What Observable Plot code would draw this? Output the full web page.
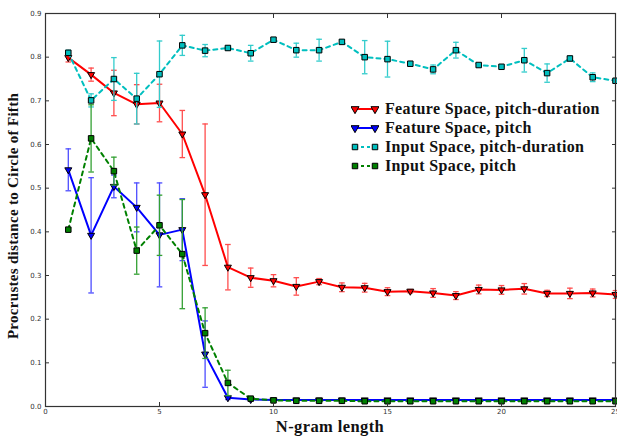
<!DOCTYPE html>
<html><head><meta charset="utf-8">
<script src="https://cdn.jsdelivr.net/npm/d3@7"></script>
<script src="https://cdn.jsdelivr.net/npm/@observablehq/plot@0.6"></script>
<style>
html,body{margin:0;padding:0;background:#fff;overflow:hidden;}
#wrap{position:relative;width:617px;height:437px;overflow:hidden;}
#wrap svg{overflow:hidden;display:block}
.lab{position:absolute;font-family:"Liberation Serif",serif;font-weight:bold;color:#111;white-space:nowrap;}
.ylab{left:-187px;top:206px;width:400px;text-align:center;font-size:15px;line-height:20px;transform:rotate(-90deg);letter-spacing:0.3px;}
.xlab{left:130px;top:417px;width:400px;text-align:center;font-size:16.5px;letter-spacing:0.4px;}
.leg{position:absolute;left:351px;display:flex;align-items:center;height:18px;font-family:"Liberation Serif",serif;font-weight:bold;font-size:16px;color:#111;white-space:nowrap;letter-spacing:0.35px;}
.leg svg{margin-right:6px;}
</style></head><body><div id="wrap"></div>
<script>
const nGram = [1,2,3,4,5,6,7,8,9,10,11,12,13,14,15,16,17,18,19,20,21,22,23,24,25];
const xTicks = [0,5,10,15,20,25];
const yTicks = [0,0.1,0.2,0.3,0.4,0.5,0.6,0.7,0.8,0.9];
const seriesNames = ["Feature Space, pitch-duration","Feature Space, pitch","Input Space, pitch-duration","Input Space, pitch"];

const featPD    = [0.799,0.760,0.718,0.692,0.695,0.624,0.485,0.319,0.295,0.288,0.275,0.286,0.273,0.272,0.263,0.264,0.260,0.254,0.268,0.267,0.2695,0.259,0.259,0.260,0.2565];
const featPDerr = [0.010,0.015,0.052,0.045,0.043,0.054,0.162,0.052,0.022,0.014,0.020,0.007,0.010,0.010,0.009,0.004,0.010,0.009,0.010,0.010,0.012,0.007,0.012,0.009,0.009];

const featP    = [0.542,0.392,0.504,0.456,0.393,0.405,0.120,0.020,0.016,0.015,0.015,0.015,0.015,0.015,0.015,0.015,0.015,0.015,0.015,0.015,0.015,0.015,0.015,0.015,0.015];
const featPerr = [0.048,0.132,0.026,0.056,0.119,0.071,0.076,0.004,0.003,0.002,0.002,0.002,0.002,0.002,0.002,0.002,0.002,0.002,0.002,0.002,0.002,0.002,0.002,0.002,0.002];

const inPD    = [0.810,0.701,0.750,0.705,0.761,0.827,0.815,0.821,0.809,0.840,0.816,0.816,0.835,0.800,0.7955,0.785,0.772,0.816,0.782,0.778,0.793,0.7635,0.797,0.754,0.746];
const inPDerr = [0.006,0.015,0.049,0.058,0.076,0.023,0.014,0.005,0.018,0.004,0.016,0.025,0.005,0.038,0.041,0.004,0.010,0.018,0.002,0.002,0.027,0.021,0.005,0.010,0.003];

const inP    = [0.405,0.614,0.539,0.357,0.415,0.349,0.168,0.054,0.018,0.014,0.013,0.013,0.013,0.012,0.012,0.012,0.012,0.012,0.012,0.012,0.012,0.012,0.012,0.012,0.012];
const inPerr = [0.003,0.077,0.032,0.054,0.069,0.125,0.058,0.029,0.003,0.002,0.002,0.002,0.002,0.002,0.002,0.002,0.002,0.002,0.002,0.002,0.002,0.002,0.002,0.002,0.002];

const styles = [
  {color:"#ff0000", err:"#ff4d4d", dash:null, symbol:"triangle", rotate:180, r:2.6},
  {color:"#0000ff", err:"#4d4dff", dash:null, symbol:"triangle", rotate:180, r:2.6},
  {color:"#00bfbf", err:"#33cccc", dash:"4,4", symbol:"square", rotate:0, r:3.1},
  {color:"#008000", err:"#33a033", dash:"4,4", symbol:"square", rotate:0, r:3.1}
];
const values = [featPD, featP, inPD, inP];
const errs = [featPDerr, featPerr, inPDerr, inPerr];

const capSymbol = {draw(ctx, size){ const r = Math.sqrt(size/Math.PI); ctx.moveTo(-r,0); ctx.lineTo(r,0); }};

const marks = [];
values.forEach((vals, i) => {
  const st = styles[i];
  const rows = nGram.map((n, j) => ({n, v: vals[j], lo: vals[j]-errs[i][j], hi: vals[j]+errs[i][j]}));
  marks.push(Plot.ruleX(rows, {x:"n", y1:"lo", y2:"hi", stroke: st.err, strokeWidth: 1.3}));
  marks.push(Plot.dot(rows, {x:"n", y:"lo", symbol: capSymbol, r: 2.8, stroke: st.err, fill:"none", strokeWidth: 1.3}));
  marks.push(Plot.dot(rows, {x:"n", y:"hi", symbol: capSymbol, r: 2.8, stroke: st.err, fill:"none", strokeWidth: 1.3}));
  marks.push(Plot.line(rows, {x:"n", y:"v", stroke: st.color, strokeWidth: 2, strokeDasharray: st.dash}));
  marks.push(Plot.dot(rows, {x:"n", y:"v", symbol: st.symbol, rotate: st.rotate, r: st.r, fill: st.color, stroke:"#000", strokeWidth: 1}));
});

const blank = () => "";
const chart = Plot.plot({
  width: 617, height: 437,
  marginLeft: 45, marginRight: 2, marginTop: 13, marginBottom: 31,
  style: {fontFamily: "DejaVu Sans", fontSize: "7px", color: "#333", background: "#fff", overflow: "hidden"},
  x: {domain: [0,25]},
  y: {domain: [0,0.9]},
  marks: [
    ...marks,
    Plot.frame({stroke:"#333", strokeWidth: 1.2}),
    Plot.axisY({anchor:"left", ticks: yTicks, tickSize: 0, tickPadding: 4, tickFormat: d3.format(".1f"), label: null}),
    Plot.axisY({anchor:"left", ticks: yTicks, tickSize: 4, dx: 4, tickFormat: blank, label: null}),
    Plot.axisY({anchor:"right", ticks: yTicks, tickSize: 4, dx: -4, tickFormat: blank, label: null}),
    Plot.axisX({anchor:"bottom", ticks: xTicks, tickSize: 0, tickPadding: 3, tickFormat: d3.format("d"), label: null}),
    Plot.axisX({anchor:"bottom", ticks: xTicks, tickSize: 4, dy: -4, tickFormat: blank, label: null}),
    Plot.axisX({anchor:"top", ticks: xTicks, tickSize: 4, dy: 4, tickFormat: blank, label: null})
  ]
});
const wrap = document.getElementById("wrap");
wrap.appendChild(chart);

const yl = document.createElement("div"); yl.className = "lab ylab"; yl.textContent = "Procrustes distance to Circle of Fifth"; wrap.appendChild(yl);
const xl = document.createElement("div"); xl.className = "lab xlab"; xl.textContent = "N-gram length"; wrap.appendChild(xl);

const legTops = [100, 119, 138, 157];
seriesNames.forEach((name, i) => {
  const st = styles[i];
  const row = document.createElement("div");
  row.className = "leg"; row.style.top = legTops[i] + "px";
  const ns = "http://www.w3.org/2000/svg";
  const svg = document.createElementNS(ns, "svg");
  svg.setAttribute("width", 28); svg.setAttribute("height", 12);
  const ln = document.createElementNS(ns, "line");
  ln.setAttribute("x1", 4); ln.setAttribute("x2", 24); ln.setAttribute("y1", 6); ln.setAttribute("y2", 6);
  ln.setAttribute("stroke", st.color); ln.setAttribute("stroke-width", 2);
  if (st.dash) ln.setAttribute("stroke-dasharray", "3,3");
  svg.appendChild(ln);
  [4, 24].forEach(cx => {
    const p = document.createElementNS(ns, "path");
    const sym = st.symbol === "triangle" ? d3.symbol(d3.symbolTriangle, 28) : d3.symbol(d3.symbolSquare, 30);
    p.setAttribute("d", sym());
    p.setAttribute("transform", `translate(${cx},6) rotate(${st.rotate})`);
    p.setAttribute("fill", st.color); p.setAttribute("stroke", "#000"); p.setAttribute("stroke-width", 1);
    svg.appendChild(p);
  });
  row.appendChild(svg);
  const t = document.createElement("span"); t.textContent = name; row.appendChild(t);
  wrap.appendChild(row);
});
</script></body></html>
